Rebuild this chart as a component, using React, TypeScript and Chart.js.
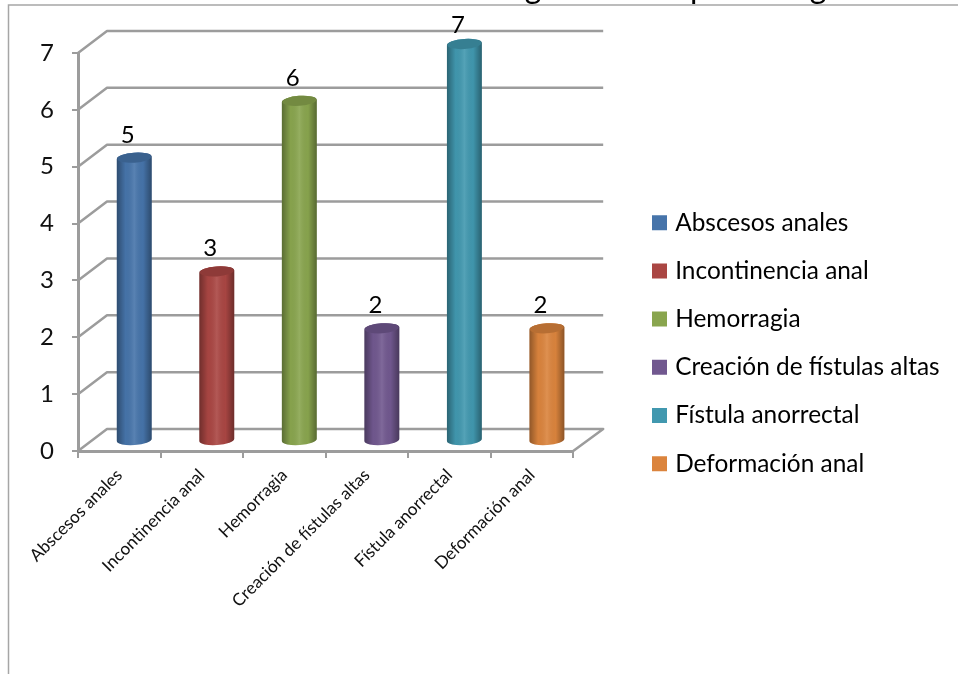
import React, { useEffect, useRef } from "react";
import { Chart, registerables, BarElement } from "chart.js";

Chart.register(...registerables);

const categories = [
  "Abscesos anales",
  "Incontinencia anal",
  "Hemorragia",
  "Creación de fístulas altas",
  "Fístula anorrectal",
  "Deformación anal",
];
const values = [5, 3, 6, 2, 7, 2];
const colors = ["#4674AA", "#AA4643", "#89A54E", "#71588F", "#4198AF", "#DB843D"];
const titleFragments = ["g", "p", "g"];

const FONT = "Lato, Carlito, 'Open Sans', sans-serif";
const GRID = "#9c9c9c";
const DEPTH_X = 29;
const DEPTH_Y = -22;
const BAR_SHIFT_X = 15;

// Draw the library's bar elements as shaded cylinders in the chart's 3D depth.
(BarElement.prototype as any).draw = function (ctx: CanvasRenderingContext2D) {
  const { x, y, base, width } = (this as any).getProps(["x", "y", "base", "width"], true);
  const color = (this as any).options.backgroundColor;
  const cx = x + BAR_SHIFT_X;
  const rx = width / 2;
  const ry = 5;
  const rot = -0.07;
  const tilt = rx * Math.sin(-rot);
  const top = y - 9;
  const bot = base - 10;
  ctx.save();
  ctx.beginPath();
  ctx.moveTo(cx - rx, top + tilt);
  ctx.lineTo(cx - rx, bot + tilt);
  ctx.ellipse(cx, bot, rx, ry, rot, Math.PI, 0, true);
  ctx.lineTo(cx + rx, top - tilt);
  ctx.ellipse(cx, top, rx, ry, rot, 0, Math.PI, true);
  ctx.closePath();
  ctx.fillStyle = color;
  ctx.fill();
  const shade = ctx.createLinearGradient(cx - rx, 0, cx + rx, 0);
  shade.addColorStop(0, "rgba(0,0,0,0.34)");
  shade.addColorStop(0.25, "rgba(0,0,0,0.02)");
  shade.addColorStop(0.5, "rgba(255,255,255,0.1)");
  shade.addColorStop(0.75, "rgba(0,0,0,0.02)");
  shade.addColorStop(1, "rgba(0,0,0,0.36)");
  ctx.fillStyle = shade;
  ctx.fill();
  ctx.beginPath();
  ctx.ellipse(cx, top, rx - 0.5, ry, rot, 0, Math.PI * 2);
  ctx.fillStyle = color;
  ctx.fill();
  ctx.fillStyle = "rgba(0,0,0,0.16)";
  ctx.fill();
  ctx.restore();
};

const depthPlugin = {
  id: "depth",
  beforeDraw(chart: any) {
    const { ctx, legend } = chart;
    legend.left = 656 - legend.options.labels.padding;
    legend.top = 210.5 - legend.options.labels.padding;
    legend.right = 958;
    legend.bottom = 674;
    legend.width = legend.right - legend.left;
    legend.height = legend.bottom - legend.top;
    ctx.save();
    ctx.fillStyle = "#000";
    ctx.font = `32px ${FONT}`;
    ctx.textAlign = "center";
    ctx.textBaseline = "alphabetic";
    const xs = [533, 699, 818];
    titleFragments.forEach((t, i) => ctx.fillText(t, xs[i], -2));
    ctx.strokeStyle = "#a6a6a6";
    ctx.lineWidth = 1.5;
    ctx.beginPath();
    ctx.moveTo(958, 5);
    ctx.lineTo(8.5, 5);
    ctx.lineTo(8.5, 674);
    ctx.stroke();
    ctx.restore();
  },
  beforeDatasetsDraw(chart: any) {
    const { ctx, scales } = chart;
    const { x, y } = scales;
    const l = x.left;
    const r = x.right;
    ctx.save();
    ctx.strokeStyle = GRID;
    ctx.lineWidth = 2.5;
    ctx.lineJoin = "round";
    y.ticks.forEach((t: any) => {
      const py = y.getPixelForValue(t.value);
      ctx.beginPath();
      ctx.moveTo(l, py);
      ctx.lineTo(l + DEPTH_X, py + DEPTH_Y);
      ctx.lineTo(r + DEPTH_X + 1, py + DEPTH_Y);
      if (t.value === 0) ctx.lineTo(r, py);
      ctx.stroke();
    });
    ctx.restore();
  },
  afterDatasetsDraw(chart: any) {
    const { ctx } = chart;
    const meta = chart.getDatasetMeta(0);
    ctx.save();
    ctx.fillStyle = "#000";
    ctx.font = `24px ${FONT}`;
    ctx.textAlign = "center";
    ctx.textBaseline = "alphabetic";
    meta.data.forEach((el: any, i: number) => {
      ctx.fillText(String(values[i]), el.x + 8.5, Math.max(el.y - 24, 33));
    });
    ctx.restore();
  },
};

export default function App() {
  const ref = useRef<HTMLCanvasElement>(null);
  useEffect(() => {
    const chart = new Chart(ref.current as HTMLCanvasElement, {
      type: "bar",
      data: {
        labels: categories,
        datasets: [
          {
            data: values,
            backgroundColor: colors,
            barPercentage: 0.423,
            categoryPercentage: 1,
            clip: false,
          } as any,
        ],
      },
      options: {
        responsive: false,
        animation: false,
        layout: { padding: { top: 53, right: 67.4, bottom: 0, left: 0 } },
        plugins: {
          title: { display: false },
          tooltip: { enabled: false },
          legend: {
            display: true,
            position: "right",
            align: "start",
            maxWidth: 420,
            labels: {
              boxWidth: 7,
              boxHeight: 7,
              padding: 23.8,
              color: "#111",
              font: { family: FONT, size: 24.4 },
              generateLabels: () =>
                categories.map((c, i) => ({
                  text: c,
                  fillStyle: colors[i],
                  strokeStyle: colors[i],
                  lineWidth: 8,
                  index: i,
                  hidden: false,
                })),
            },
          },
        },
        scales: {
          x: {
            grid: { drawOnChartArea: false, color: GRID, lineWidth: 2, tickLength: 7 },
            border: { color: GRID, width: 3 },
            ticks: {
              color: "#111",
              font: { family: FONT, size: 17.2 },
              autoSkip: false,
              minRotation: 45,
              maxRotation: 45,
              padding: 7,
            },
            afterFit: (s: any) => {
              s.height = 223;
            },
          },
          y: {
            min: 0,
            max: 7,
            grid: { drawOnChartArea: false, color: GRID, lineWidth: 2, tickLength: 6 },
            border: { color: GRID, width: 3 },
            ticks: {
              stepSize: 1,
              color: "#111",
              font: { family: FONT, size: 24 },
              padding: 18,
            },
            afterFit: (s: any) => {
              s.width = 78;
            },
          },
        },
      },
      plugins: [depthPlugin],
    } as any);
    return () => chart.destroy();
  }, []);
  return (
    <div style={{ position: "absolute", left: 0, top: 0, width: 958, height: 674, background: "#fff" }}>
      <canvas ref={ref} width={958} height={674} style={{ display: "block" }} />
    </div>
  );
}
